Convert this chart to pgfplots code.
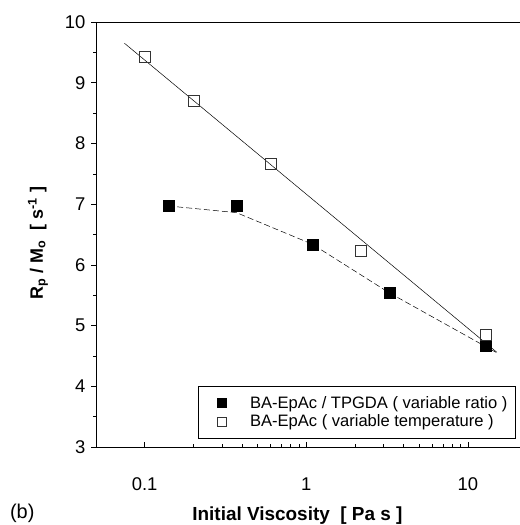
\documentclass[border=0pt]{standalone}
\usepackage{pgfplots}
\pgfplotsset{compat=1.18}
\usepackage{fontspec}
\setmainfont{Liberation Sans}
\begin{document}
\begin{tikzpicture}
\begin{axis}[
  at={(0,0)}, anchor=south west,
  scale only axis, width=424bp, height=425bp,
  xmode=log, xmin=0.05, xmax=21, ymin=3, ymax=10,
  axis x line*=box, axis y line*=left,
  xtick={0.1,1,10}, xticklabels={0.1,1,10},
  ytick={3,4,5,6,7,8,9,10},
  minor y tick num=1,
  xtick pos=bottom, ytick pos=left,
  x tick style={/pgfplots/tick align=inside},
  y tick style={/pgfplots/tick align=outside},
  major tick length=5bp, minor tick length=3bp,
  tick style={black, line width=0.5pt},
  axis line style={line width=0.7pt},
  /pgf/number format/assume math mode=true,
  ticklabel style={font=\fontsize{18.5}{22}\selectfont},
  xticklabel style={yshift=-27bp},
  yticklabel style={xshift=-7bp},
  xlabel={\textbf{Initial Viscosity\ \ [ Pa s ]}},
  xlabel style={font=\fontsize{19}{22}\selectfont, at={(axis description cs:0.475,0)}, anchor=base, yshift=-73bp},
  ylabel={\textbf{R\textsubscript{p} / M\textsubscript{o}\ \ [ s\textsuperscript{-1} ]}},
  ylabel style={font=\fontsize{18}{21}\selectfont, at={(axis description cs:-0.137,0.48)}, anchor=center},
  legend style={at={(axis description cs:0.241,0.1435)}, anchor=north west,
    font=\fontsize{16.6}{19}\selectfont, draw=black, line width=0.5pt,
    inner xsep=6bp, inner ysep=8bp, row sep=1bp,
    /tikz/every odd column/.append style={column sep=12bp}},
  legend cell align=left,
  legend image code/.code={\path (0cm,0cm) (1.1cm,0cm); \draw[#1, mark size=4.5bp] plot coordinates {(0.6cm,0cm)};},
  clip=false,
]
% dashed fit (variable ratio)
\addplot[black, dashed, dash pattern=on 6pt off 3pt, line width=0.5pt, forget plot] coordinates {
 (0.14,6.97) (0.37,6.86) (1.09,6.34) (3.26,5.54) (14.9,4.56)};
% solid fit (variable temperature)
\addplot[black, line width=0.5pt, forget plot] coordinates {(0.075,9.65) (15.1,4.56)};
% filled squares
\addplot[only marks, mark=square*, mark size=5.5bp, mark options={fill=black, draw=black}] coordinates {
 (0.14,6.97) (0.37,6.97) (1.09,6.34) (3.26,5.54) (12.9,4.67)};
\addlegendentry{BA-EpAc / TPGDA ( variable ratio )}
% open squares
\addplot[only marks, mark=square, mark size=5.5bp, mark options={draw=black!80, fill=white, line width=0.6pt}] coordinates {
 (0.1,9.43) (0.2,8.70) (0.6,7.67) (2.18,6.23) (12.9,4.85)};
\addlegendentry{BA-EpAc ( variable temperature )}
\node[font=\fontsize{20}{23}\selectfont, anchor=west] at (axis description cs:-0.211,-0.155) {(b)};
\end{axis}
\pgfresetboundingbox
\path[use as bounding box] (-96bp,-78bp) rectangle (424bp,447bp);
\end{tikzpicture}
\end{document}
